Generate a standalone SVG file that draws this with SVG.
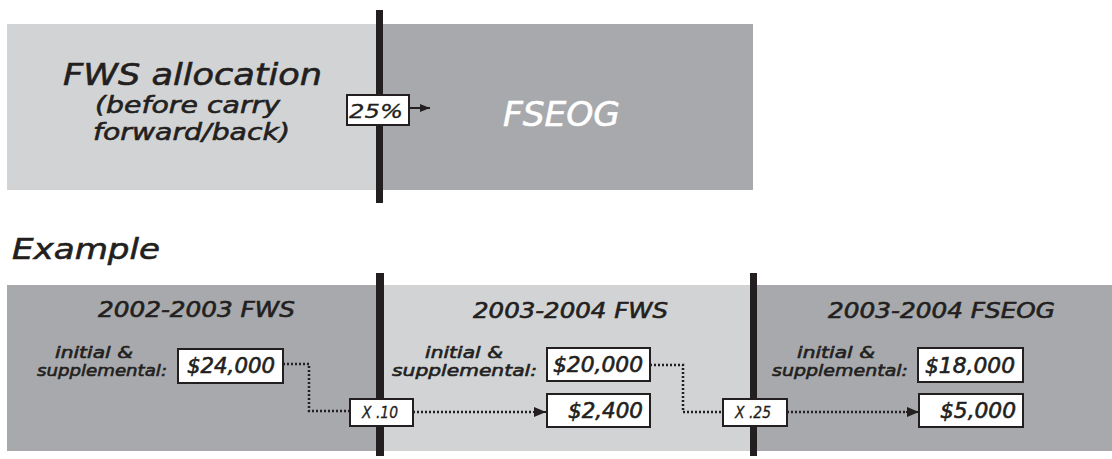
<svg xmlns="http://www.w3.org/2000/svg" width="1112" height="459" viewBox="0 0 1112 459">
<style>
.t{font-family:"DejaVu Sans","Open Sans",sans-serif;font-style:italic;font-weight:normal;fill:#231f20;stroke:#231f20;stroke-width:0.6}
.w{fill:#fff;stroke:#fff}
.s{font-size:16px}
.light{fill:#d1d3d4}
.dark{fill:#a7a9ac}
.bar{fill:#231f20}
.box{fill:#fff;stroke:#231f20;stroke-width:2}
.dot{fill:none;stroke:#231f20;stroke-width:2.5;stroke-dasharray:2 2}
.ln{fill:none;stroke:#231f20;stroke-width:2}
</style>
<defs>
<marker id="ah" viewBox="0 0 12 10" refX="12" refY="5" markerWidth="12" markerHeight="10" markerUnits="userSpaceOnUse" orient="auto">
<path d="M0,0 L12,5 L0,10 Z" fill="#231f20"/>
</marker>
<marker id="ahs" viewBox="0 0 10 8" refX="10" refY="4" markerWidth="10" markerHeight="8" markerUnits="userSpaceOnUse" orient="auto">
<path d="M0,0 L10,4 L0,8 Z" fill="#231f20"/>
</marker>
</defs>
<rect width="1112" height="459" fill="#fff"/>
<g id="top-fws">
<rect class="light" x="7" y="24" width="372" height="166"/>
<text class="t" x="63" y="85" font-size="30" textLength="259" lengthAdjust="spacingAndGlyphs">FWS allocation</text>
<text class="t" x="95" y="113" font-size="23" textLength="185" lengthAdjust="spacingAndGlyphs">(before carry</text>
<text class="t" x="93" y="140" font-size="23" textLength="197" lengthAdjust="spacingAndGlyphs">forward/back)</text>
</g>
<g id="top-fseog">
<rect class="dark" x="379" y="24" width="374" height="166"/>
<text class="t w" x="503" y="126" font-size="33" textLength="117" lengthAdjust="spacingAndGlyphs">FSEOG</text>
</g>
<g id="example-title">
<text class="t" x="12" y="259" font-size="28" textLength="148" lengthAdjust="spacingAndGlyphs">Example</text>
</g>
<g id="ex-fws-0203">
<rect class="dark" x="7" y="285" width="372" height="166"/>
<text class="t" x="98" y="317" font-size="21" textLength="197" lengthAdjust="spacingAndGlyphs">2002-2003 FWS</text>
<text class="t s" x="55" y="358" textLength="78" lengthAdjust="spacingAndGlyphs">initial &amp;</text>
<text class="t s" x="37" y="376" textLength="130" lengthAdjust="spacingAndGlyphs">supplemental:</text>
</g>
<g id="ex-fws-0304">
<rect class="light" x="379" y="285" width="374" height="166"/>
<text class="t" x="473" y="318" font-size="21" textLength="195" lengthAdjust="spacingAndGlyphs">2003-2004 FWS</text>
<text class="t s" x="425" y="358" textLength="78" lengthAdjust="spacingAndGlyphs">initial &amp;</text>
<text class="t s" x="392" y="376" textLength="145" lengthAdjust="spacingAndGlyphs">supplemental:</text>
</g>
<g id="ex-fseog-0304">
<rect class="dark" x="753" y="285" width="359" height="166"/>
<text class="t" x="828" y="318" font-size="21" textLength="227" lengthAdjust="spacingAndGlyphs">2003-2004 FSEOG</text>
<text class="t s" x="797" y="358" textLength="78" lengthAdjust="spacingAndGlyphs">initial &amp;</text>
<text class="t s" x="772" y="376" textLength="136" lengthAdjust="spacingAndGlyphs">supplemental:</text>
</g>
<g id="bars">
<rect class="bar" x="376" y="10" width="7" height="193"/>
<rect class="bar" x="376" y="273" width="8" height="183"/>
<rect class="bar" x="750" y="273" width="7" height="183"/>
</g>
<g id="connectors">
<line class="ln" x1="409" y1="108" x2="430" y2="108" marker-end="url(#ahs)"/>
<polyline class="dot" points="283,364 309,364 309,411 350,411"/>
<line class="dot" x1="413" y1="412" x2="533" y2="412"/>
<line class="ln" x1="533" y1="412" x2="546" y2="412" marker-end="url(#ah)" stroke-width="0"/>
<polyline class="dot" points="650,365 683,365 683,412 723,412"/>
<line class="dot" x1="787" y1="412" x2="906" y2="412"/>
<line class="ln" x1="906" y1="412" x2="919" y2="412" marker-end="url(#ah)" stroke-width="0"/>
</g>
<g id="pct25">
<rect class="box" x="347" y="95" width="62" height="30"/>
<text class="t" x="349" y="118" font-size="20" textLength="54" lengthAdjust="spacingAndGlyphs" style="stroke-width:0.3">25%</text>
</g>
<g id="v24000">
<rect class="box" x="178" y="349" width="105" height="34"/>
<text class="t" x="187" y="373" font-size="21" textLength="88" lengthAdjust="spacingAndGlyphs">$24,000</text>
</g>
<g id="x10">
<rect class="box" x="350" y="399" width="63" height="27"/>
<text class="t" x="362" y="418" font-size="15" textLength="36" lengthAdjust="spacingAndGlyphs" style="stroke-width:0.3">X .10</text>
</g>
<g id="v20000">
<rect class="box" x="547" y="348" width="103" height="33"/>
<text class="t" x="553" y="372" font-size="21" textLength="90" lengthAdjust="spacingAndGlyphs">$20,000</text>
</g>
<g id="v2400">
<rect class="box" x="547" y="394" width="103" height="33"/>
<text class="t" x="568" y="418" font-size="21" textLength="75" lengthAdjust="spacingAndGlyphs">$2,400</text>
</g>
<g id="x25">
<rect class="box" x="723" y="399" width="64" height="27"/>
<text class="t" x="735" y="418" font-size="15" textLength="36" lengthAdjust="spacingAndGlyphs" style="stroke-width:0.3">X .25</text>
</g>
<g id="v18000">
<rect class="box" x="918" y="348" width="105" height="34"/>
<text class="t" x="925" y="373" font-size="21" textLength="90" lengthAdjust="spacingAndGlyphs">$18,000</text>
</g>
<g id="v5000">
<rect class="box" x="919" y="394" width="104" height="33"/>
<text class="t" x="940" y="418" font-size="21" textLength="76" lengthAdjust="spacingAndGlyphs">$5,000</text>
</g>
</svg>
